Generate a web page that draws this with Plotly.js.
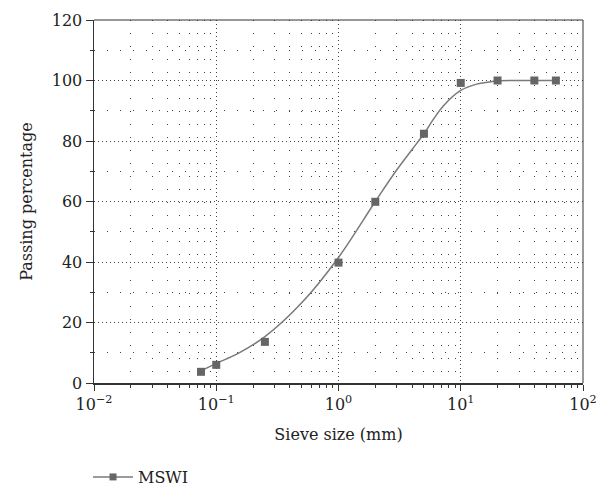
<!DOCTYPE html>
<html>
<head>
<meta charset="utf-8">
<script src="https://cdn.plot.ly/plotly-3.0.1.min.js"></script>
<style>html,body{margin:0;padding:0;background:#fff;}#chart{width:607px;height:487px;}</style>
</head>
<body>
<div id="chart"></div>
<script>
const sieveSize = [0.075, 0.1, 0.25, 1, 2, 5, 10, 20, 40, 60];
const passing   = [3.7, 6, 13.6, 39.8, 59.9, 82.4, 99.2, 100, 100, 100];

// Fitted gradation curve
const curveSize    = [0.075, 0.1, 0.15, 0.25, 0.5, 1, 2, 3, 4, 5, 6, 7.2, 10, 13.5, 17, 20, 30, 60];
const curvePassing = [4.0, 6.5, 9.7, 15.3, 26.5, 41.5, 60, 70.5, 77.2, 82.4, 87.3, 91.6, 96.7, 98.8, 99.5, 99.9, 100, 100];

const seriesName = 'MSWI';
const xTickVals = [0.01, 0.1, 1, 10, 100];
const xTickText = ['10<sup>\u22122</sup>', '10<sup>\u22121</sup>', '10<sup>0</sup>', '10<sup>1</sup>', '10<sup>2</sup>'];

const minorX = [];
for (let e = -2; e < 2; e++) for (let m = 2; m <= 9; m++) minorX.push(m * Math.pow(10, e));

const lineColor = '#7a7a7a';
const markColor = '#666666';
const font = {family: '"DejaVu Serif", "Liberation Serif", serif', size: 16, color: '#222'};

const traces = [
  {x: curveSize, y: curvePassing, mode: 'lines', line: {color: lineColor, width: 1.5, shape: 'spline', smoothing: 1},
   showlegend: false, hoverinfo: 'skip'},
  {x: sieveSize, y: passing, mode: 'markers', marker: {symbol: 'square', size: 8, color: markColor},
   showlegend: false},
  {x: [null], y: [null], mode: 'lines+markers', name: seriesName,
   line: {color: lineColor, width: 1.5}, marker: {symbol: 'square', size: 7, color: markColor}}
];

const layout = {
  width: 607, height: 487,
  margin: {l: 94, r: 24, t: 20, b: 104},
  paper_bgcolor: '#fff', plot_bgcolor: '#fff',
  font: font,
  showlegend: true,
  legend: {orientation: 'h', xref: 'container', yref: 'container', x: 0.145, y: 0.0205,
           xanchor: 'left', yanchor: 'middle', font: font, bgcolor: 'rgba(0,0,0,0)', itemwidth: 40},
  xaxis: {
    type: 'log', range: [-2, 2], automargin: false,
    tickmode: 'array', tickvals: xTickVals, ticktext: xTickText,
    ticks: 'outside', ticklen: 6, tickwidth: 1, tickcolor: '#333',
    showline: true, linecolor: '#333', linewidth: 1.5,
    showgrid: true, gridcolor: '#444', gridwidth: 1, griddash: '1px,3px',
    zeroline: false,
    minor: {tickmode: 'array', tickvals: minorX, ticks: 'outside', ticklen: 3, tickcolor: '#333',
            showgrid: true, gridcolor: '#444', gridwidth: 1, griddash: '1px,12px'},
    title: {text: 'Sieve size (mm)', font: font, standoff: 16},
    tickfont: font
  },
  yaxis: {
    range: [0, 120], dtick: 20, tick0: 0, automargin: false,
    ticks: 'outside', ticklen: 7, tickwidth: 1, tickcolor: '#333',
    showline: true, linecolor: '#333', linewidth: 1.5,
    showgrid: true, gridcolor: '#444', gridwidth: 1, griddash: '1px,3px',
    zeroline: false,
    minor: {dtick: 10, ticks: 'outside', ticklen: 3, tickcolor: '#333',
            showgrid: true, gridcolor: '#444', gridwidth: 1, griddash: '1px,12px'},
    title: {text: 'Passing percentage', font: font, standoff: 15},
    tickfont: font
  },
  shapes: [
    {type: 'line', xref: 'paper', yref: 'paper', x0: 0, x1: 1, y0: 1, y1: 1, line: {color: '#333', width: 1}},
    {type: 'line', xref: 'paper', yref: 'paper', x0: 1, x1: 1, y0: 0, y1: 1, line: {color: '#333', width: 1}}
  ]
};

Plotly.newPlot('chart', traces, layout, {staticPlot: true, displayModeBar: false});
</script>
</body>
</html>
